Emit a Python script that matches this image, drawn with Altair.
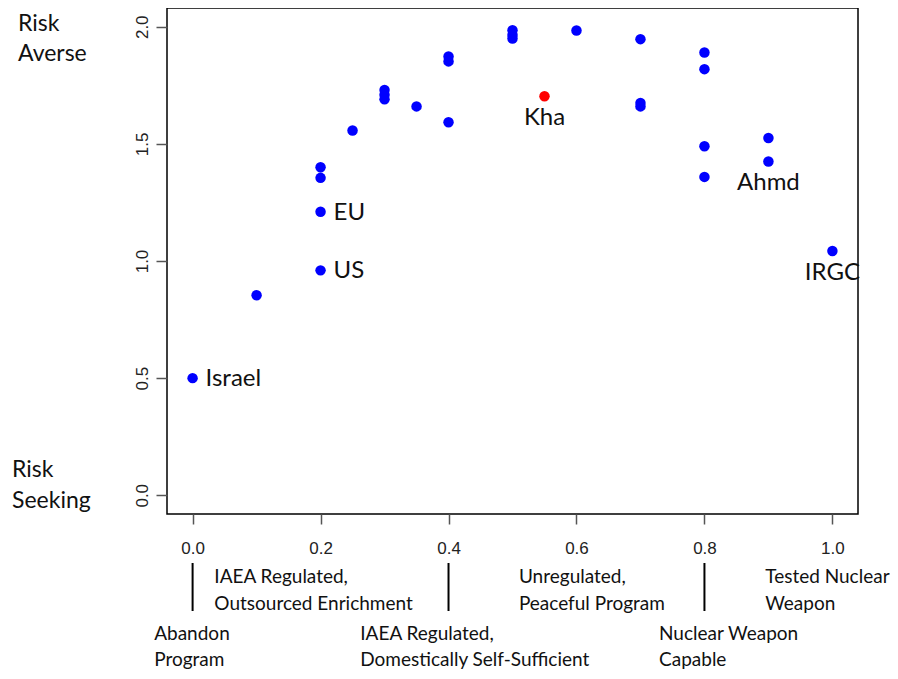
import altair as alt
import pandas as pd

# ---- data ----
x_vals = [0.0, 0.1, 0.2, 0.2, 0.2, 0.2, 0.25, 0.3, 0.3, 0.3, 0.35, 0.4, 0.4, 0.4,
          0.5, 0.5, 0.5, 0.55, 0.6, 0.7, 0.7, 0.7, 0.8, 0.8, 0.8, 0.8, 0.9, 0.9, 1.0]
y_vals = [0.50, 0.854, 1.40, 1.355, 1.21, 0.96, 1.557, 1.73, 1.71, 1.69, 1.66, 1.873, 1.852, 1.592,
          1.985, 1.965, 1.95, 1.703, 1.984, 1.947, 1.675, 1.66, 1.89, 1.819, 1.49, 1.359, 1.525, 1.425, 1.043]
kind = ["other"] * 17 + ["Kha"] + ["other"] * 11

right_label_names = ["Israel", "EU", "US"]
right_label_x = [0.0, 0.2, 0.2]
right_label_y = [0.50, 1.21, 0.96]

below_label_names = ["Kha", "Ahmd", "IRGC"]
below_label_x = [0.55, 0.9, 1.0]
below_label_y = [1.703, 1.425, 1.043]

x_ticks = [0.0, 0.2, 0.4, 0.6, 0.8, 1.0]
y_ticks = [0.0, 0.5, 1.0, 1.5, 2.0]

divider_x = [0.0, 0.4, 0.8]
upper_row_x = [0.034, 0.51, 0.895]
upper_row_text = ["IAEA Regulated,\nOutsourced Enrichment", "Unregulated,\nPeaceful Program",
                  "Tested Nuclear\nWeapon"]
lower_row_x = [-0.06, 0.262, 0.729]
lower_row_text = ["Abandon\nProgram", "IAEA Regulated,\nDomestically Self-Sufficient",
                  "Nuclear Weapon\nCapable"]

# ---- tables ----
pts = pd.DataFrame({"x": x_vals, "y": y_vals, "kind": kind})
rlab = pd.DataFrame({"x": right_label_x, "y": right_label_y, "t": right_label_names})
blab = pd.DataFrame({"x": below_label_x, "y": below_label_y, "t": below_label_names})
div = pd.DataFrame({"x": divider_x})
up = pd.DataFrame({"x": upper_row_x, "t": upper_row_text})
lo = pd.DataFrame({"x": lower_row_x, "t": lower_row_text})

xs = alt.Scale(domain=[-0.04, 1.04], nice=False, zero=False)
ys = alt.Scale(domain=[-0.08, 2.08], nice=False, zero=False)

LABEL_FONT = "Lato"

points = alt.Chart(pts).mark_circle(size=110, opacity=1).encode(
    x=alt.X("x:Q", scale=xs, title=None,
            axis=alt.Axis(values=x_ticks, format=".1f", grid=False, domain=False,
                          tickSize=10, labelPadding=16)),
    y=alt.Y("y:Q", scale=ys, title=None,
            axis=alt.Axis(values=y_ticks, format=".1f", grid=False, domain=False,
                          tickSize=11, labelPadding=5, labelAngle=270,
                          labelAlign="center", labelBaseline="bottom")),
    color=alt.Color("kind:N", scale=alt.Scale(domain=["other", "Kha"], range=["#0000FF", "#FF0000"]),
                    legend=None),
)

right_labels = alt.Chart(rlab).mark_text(
    align="left", baseline="middle", dx=13, dy=1, font=LABEL_FONT, fontSize=24, color="#111"
).encode(x=alt.X("x:Q", scale=xs), y=alt.Y("y:Q", scale=ys), text="t:N")

below_labels = alt.Chart(blab).mark_text(
    align="center", baseline="middle", dx=0, dy=22, font=LABEL_FONT, fontSize=24, color="#111"
).encode(x=alt.X("x:Q", scale=xs), y=alt.Y("y:Q", scale=ys), text="t:N")

dividers = alt.Chart(div).mark_rule(color="black", strokeWidth=2).encode(
    x=alt.X("x:Q", scale=xs), y=alt.value(555), y2=alt.value(603)
)

upper_row = alt.Chart(up).mark_text(
    align="left", baseline="alphabetic", lineBreak="\n", lineHeight=27,
    font=LABEL_FONT, fontSize=19, color="#111"
).encode(x=alt.X("x:Q", scale=xs), y=alt.value(575), text="t:N")

lower_row = alt.Chart(lo).mark_text(
    align="left", baseline="alphabetic", lineBreak="\n", lineHeight=26,
    font=LABEL_FONT, fontSize=19, color="#111"
).encode(x=alt.X("x:Q", scale=xs), y=alt.value(632), text="t:N")

averse = alt.Chart(pd.DataFrame({"t": ["Risk\nAverse"]})).mark_text(
    align="left", baseline="alphabetic", lineBreak="\n", lineHeight=30,
    font=LABEL_FONT, fontSize=23, color="#111"
).encode(x=alt.value(-149), y=alt.value(23), text="t:N")

seeking = alt.Chart(pd.DataFrame({"t": ["Risk\nSeeking"]})).mark_text(
    align="left", baseline="alphabetic", lineBreak="\n", lineHeight=31,
    font=LABEL_FONT, fontSize=23, color="#111"
).encode(x=alt.value(-155), y=alt.value(469), text="t:N")

chart = alt.layer(
    points, right_labels, below_labels, dividers, upper_row, lower_row, averse, seeking
).properties(
    width=691, height=506,
    autosize=alt.AutoSizeParams(type="none"),
    padding={"left": 159, "top": 0, "right": 32, "bottom": 157},
).configure_view(
    stroke="black", strokeWidth=1.5
).configure_axis(
    labelFont="Liberation Sans", labelFontSize=17, labelColor="#222",
    tickColor="#555", tickWidth=1.5
)

chart.save("out.html", embed_options={"renderer": "svg", "actions": False})
